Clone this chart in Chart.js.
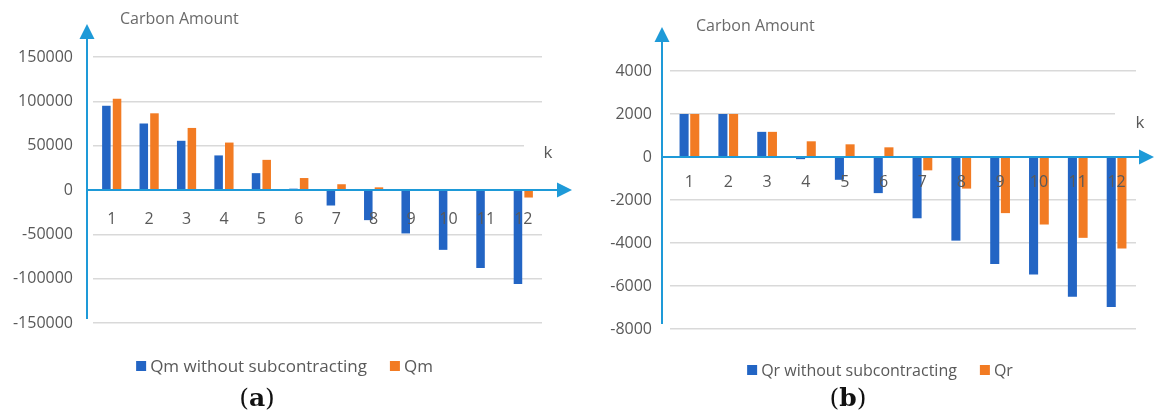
<!DOCTYPE html>
<html>
<head>
<meta charset="utf-8">
<script src="https://cdn.jsdelivr.net/npm/chart.js@4.4.1/dist/chart.umd.min.js"></script>
<style>
  html, body { margin: 0; padding: 0; background: #fff; overflow: hidden; width: 1154px; height: 416px; }
  canvas { position: absolute; top: 0; }
  #chartA { left: 0; }
  #chartB { left: 577px; }
  .cap { position: absolute; top: 383px; line-height: 30px; font-family: "DejaVu Serif", "Liberation Serif", serif;
         font-size: 25px; color: #111; transform: translateX(-50%); white-space: nowrap; }
  .cap span { font-weight: 300; }
</style>
</head>
<body>
<canvas id="chartA" width="577" height="416"></canvas>
<canvas id="chartB" width="577" height="416"></canvas>
<div class="cap" style="left:257px"><span>(</span><b>a</b><span>)</span></div>
<div class="cap" style="left:848px"><span>(</span><b>b</b><span>)</span></div>
<script>
// Periods k = 1..12
const periods = ['1', '2', '3', '4', '5', '6', '7', '8', '9', '10', '11', '12'];

// (a) manufacturer carbon amount
const qmWithout = [95000, 75000, 55500, 39000, 19000, 1500, -17500, -34000, -49000, -67500, -88000, -106000];
const qmWith    = [103000, 86500, 70000, 53500, 34000, 13500, 6500, 3000, 1000, 0, 0, -8500];
const ticksA    = [-150000, -100000, -50000, 0, 50000, 100000, 150000];

// (b) retailer carbon amount
const qrWithout = [2000, 2000, 1170, -100, -1060, -1680, -2850, -3890, -4980, -5470, -6500, -6980];
const qrWith    = [2000, 2000, 1170, 730, 590, 450, -620, -1470, -2610, -3140, -3760, -4260];
const ticksB    = [-8000, -6000, -4000, -2000, 0, 2000, 4000];

const BLUE = '#2365c4';
const ORANGE = '#f27b23';
const AXIS = '#1e9ad8';
const GREY = '#595959';
const FONT = '"Open Sans", "Noto Sans", sans-serif';

// Hand-drawn style axes with arrowheads, the axis captions and a centred legend
const decor = {
  id: 'decor',
  afterDraw(chart, args, o) {
    const { ctx, scales: { y } } = chart;
    const y0 = y.getPixelForValue(0);
    const ax = o.axisX;
    ctx.save();

    // "k" caption on a white backing
    ctx.fillStyle = '#fff';
    ctx.fillRect(o.k.boxLeft, o.k.y - 14, o.k.boxRight - o.k.boxLeft, 28);
    ctx.fillStyle = GREY;
    ctx.font = '17px ' + FONT;
    ctx.textAlign = 'center';
    ctx.textBaseline = 'middle';
    ctx.fillText('k', o.k.x, o.k.y);

    // value axis caption
    ctx.fillStyle = '#6a6a6a';
    ctx.font = '16px ' + FONT;
    ctx.textAlign = 'left';
    ctx.fillText('Carbon Amount', o.title.x, o.title.y);

    // arrows
    ctx.strokeStyle = AXIS;
    ctx.fillStyle = AXIS;
    ctx.lineWidth = 2;
    ctx.beginPath();
    ctx.moveTo(ax, o.yBottom);
    ctx.lineTo(ax, o.yTip + 12);
    ctx.stroke();
    ctx.beginPath();
    ctx.moveTo(ax, o.yTip);
    ctx.lineTo(ax - 7.5, o.yTip + 15);
    ctx.lineTo(ax + 7.5, o.yTip + 15);
    ctx.closePath();
    ctx.fill();

    ctx.beginPath();
    ctx.moveTo(ax, y0);
    ctx.lineTo(o.xTip - 12, y0);
    ctx.stroke();
    ctx.beginPath();
    ctx.moveTo(o.xTip, y0);
    ctx.lineTo(o.xTip - 15, y0 - 7.5);
    ctx.lineTo(o.xTip - 15, y0 + 7.5);
    ctx.closePath();
    ctx.fill();

    // legend
    ctx.font = o.legend.size + 'px ' + FONT;
    ctx.textBaseline = 'middle';
    const box = 10, gap = 4, sep = 23;
    const items = chart.data.datasets.map(d => ({
      label: d.label, color: d.backgroundColor, w: ctx.measureText(d.label).width
    }));
    const total = items.reduce((s, it) => s + box + gap + it.w, 0) + sep * (items.length - 1);
    let x = o.legend.cx - total / 2;
    items.forEach(it => {
      ctx.fillStyle = it.color;
      ctx.fillRect(x, o.legend.y - 5, box, box);
      ctx.fillStyle = GREY;
      ctx.fillText(it.label, x + box + gap, o.legend.y + 1);
      x += box + gap + it.w + sep;
    });
    ctx.restore();
  }
};

function makeChart(id, labels, seriesNames, blueVals, orangeVals, ticks, geo) {
  return new Chart(document.getElementById(id), {
    type: 'bar',
    data: {
      labels: labels,
      datasets: [
        { label: seriesNames[0], data: blueVals, backgroundColor: BLUE,
          categoryPercentage: geo.catPct, barPercentage: geo.barPct },
        { label: seriesNames[1], data: orangeVals, backgroundColor: ORANGE,
          categoryPercentage: geo.catPct, barPercentage: geo.barPct }
      ]
    },
    options: {
      responsive: false,
      animation: false,
      layout: { padding: geo.padding },
      plugins: {
        legend: { display: false },
        tooltip: { enabled: false },
        decor: geo.decor
      },
      scales: {
        x: {
          position: { y: 0 },
          grid: { display: false },
          border: { display: false },
          ticks: {
            z: 1, // category labels sit on top of the bars
            color: GREY, font: { family: FONT, size: 16 },
            padding: geo.xPad, maxRotation: 0, autoSkip: false
          }
        },
        y: {
          min: ticks[0],
          max: ticks[ticks.length - 1],
          afterBuildTicks: s => { s.ticks = ticks.map(v => ({ value: v })); },
          afterFit: s => { s.width = geo.yWidth; },
          grid: { color: '#d9d9d9', lineWidth: 1.5, drawTicks: false },
          border: { display: false },
          ticks: {
            color: GREY, font: { family: FONT, size: 16 },
            padding: geo.yPad,
            callback: v => String(v)
          }
        }
      }
    },
    plugins: [decor]
  });
}

makeChart('chartA', periods, ['Qm without subcontracting', 'Qm'], qmWithout, qmWith, ticksA, {
  catPct: 0.57, barPct: 0.8,
  padding: { left: 0, right: 35, top: 57, bottom: 93 },
  yWidth: 93, yPad: 20, xPad: 12,
  decor: {
    axisX: 87, yTip: 24, yBottom: 319, xTip: 572,
    title: { x: 120, y: 19 },
    k: { x: 548, y: 153, boxLeft: 524, boxRight: 566 },
    legend: { cx: 284.5, y: 366, size: 17 }
  }
});

makeChart('chartB', periods, ['Qr without subcontracting', 'Qr'], qrWithout, qrWith, ticksB, {
  catPct: 0.55, barPct: 0.85,
  padding: { left: 0, right: 18, top: 71, bottom: 87 },
  yWidth: 93, yPad: 18, xPad: 8,
  decor: {
    axisX: 85, yTip: 27, yBottom: 324, xTip: 577,
    title: { x: 119, y: 26 },
    k: { x: 563, y: 123, boxLeft: 538, boxRight: 577 },
    legend: { cx: 303, y: 370, size: 16 }
  }
});
</script>
</body>
</html>
